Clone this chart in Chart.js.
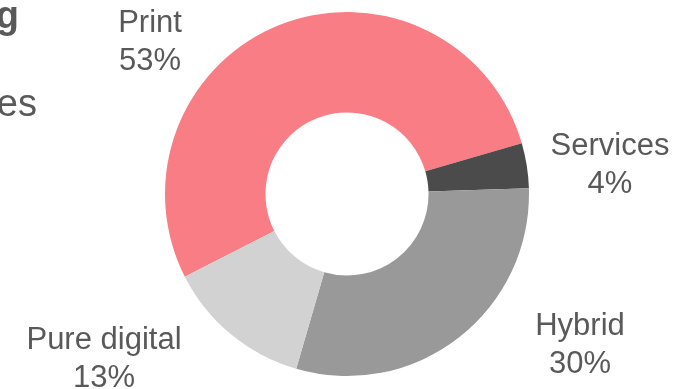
<!DOCTYPE html>
<html>
<head>
<meta charset="utf-8">
<script src="https://cdn.jsdelivr.net/npm/chart.js@4.4.1/dist/chart.umd.min.js"></script>
<style>
  html, body { margin: 0; padding: 0; background: #ffffff; }
  #wrap { width: 692px; height: 389px; position: relative; }
</style>
</head>
<body>
<div id="wrap"><canvas id="c" width="692" height="389"></canvas></div>
<script>
// ---- data ----
const categories = ["Print", "Services", "Hybrid", "Pure digital"];
const shares = [53, 4, 30, 13];
const percentLabels = ["53%", "4%", "30%", "13%"];
const titleFragment = "g";
const subtitleFragment = "es";

// ---- styles / layout (kept apart from data) ----
const sliceColors = ["#F87D84", "#4B4B4B", "#999999", "#D2D2D2"];
const textColor = "#595959";
const labelFont = "31px 'Liberation Sans', Arial, sans-serif";
const lineGap = 38;
// label anchor offsets from chart centre, in units of the outer radius (first baseline)
const labelOffsets = [
  [-197 / 182, -162 / 182],
  [263 / 182, -39 / 182],
  [233 / 182, 141 / 182],
  [-243 / 182, 155 / 182]
];

const labelPlugin = {
  id: 'outerLabels',
  afterDraw(chart) {
    const ctx = chart.ctx;
    const meta = chart.getDatasetMeta(0);
    const arc = meta.data[0];
    const cx = arc.x, cy = arc.y, R = arc.outerRadius;
    ctx.save();
    ctx.fillStyle = textColor;
    ctx.textAlign = 'center';
    ctx.textBaseline = 'alphabetic';
    ctx.font = labelFont;
    categories.forEach((name, i) => {
      const x = cx + labelOffsets[i][0] * R;
      const y = cy + labelOffsets[i][1] * R;
      ctx.fillText(name, x, y);
      ctx.fillText(percentLabels[i], x, y + lineGap);
    });
    // clipped title / subtitle fragments at the left edge
    ctx.textAlign = 'right';
    ctx.font = "bold 38px 'Liberation Sans', Arial, sans-serif";
    ctx.fillText(titleFragment, 19, 28);
    ctx.font = "38px 'Liberation Sans', Arial, sans-serif";
    ctx.fillText(subtitleFragment, 37, 116);
    ctx.restore();
  }
};

new Chart(document.getElementById('c'), {
  type: 'doughnut',
  data: {
    labels: categories,
    datasets: [{
      data: shares,
      backgroundColor: sliceColors,
      borderWidth: 0,
      hoverOffset: 0,
      offset: 0
    }]
  },
  options: {
    responsive: false,
    animation: false,
    events: [],
    cutout: '44.8%',
    rotation: 243,
    layout: { padding: { left: 2, right: 0, top: 12, bottom: 13 } },
    plugins: {
      legend: { display: false },
      tooltip: { enabled: false },
      title: { display: false }
    }
  },
  plugins: [labelPlugin]
});
</script>
</body>
</html>
